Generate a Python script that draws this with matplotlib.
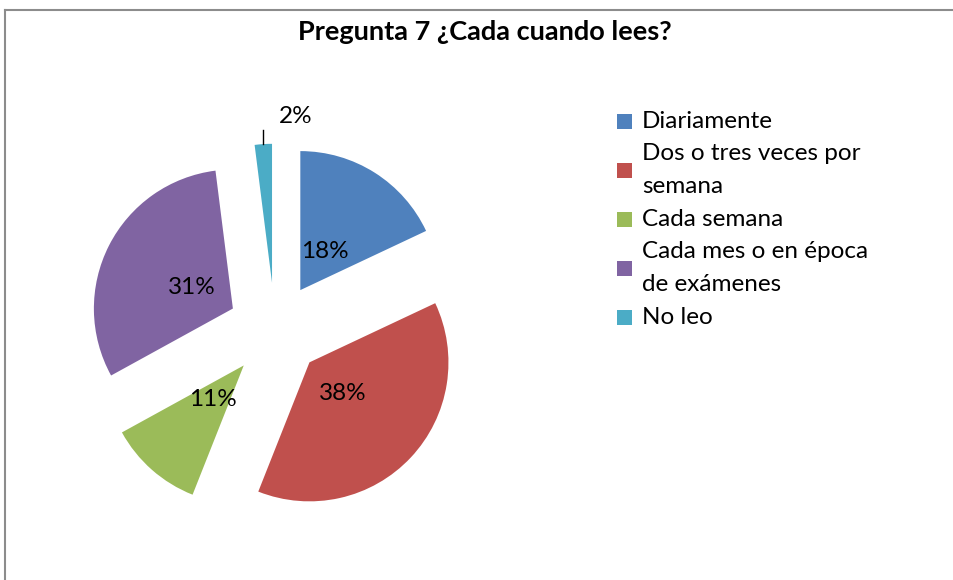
import numpy as np
import matplotlib.pyplot as plt
from matplotlib.patches import Rectangle
from matplotlib.lines import Line2D

# Pregunta 7 - exploded pie, Excel style

labels = ["Diariamente", "Dos o tres veces por\nsemana", "Cada semana",
          "Cada mes o en época\nde exámenes", "No leo"]
values = [18, 38, 11, 31, 2]
colors = ["#4F81BD", "#C0504D", "#9BBB59", "#8064A2", "#4BACC6"]

W, H = 954, 580
FONT = "Lato"

fig = plt.figure(figsize=(W / 100, H / 100), dpi=100)
fig.patch.set_facecolor("white")

# pie centre / radius in pixels
cx, cy, R = 275, 330, 139
ax = fig.add_axes([0, 0, 1, 1])

wedges, texts, autotexts = ax.pie(
    values, explode=[0.34] * len(values), colors=colors,
    startangle=90, counterclock=False,
    autopct=lambda p: f"{p:.0f}%", pctdistance=0.33,
    wedgeprops=dict(linewidth=0),
    textprops=dict(fontsize=17.5, family=FONT, color="black"))

ax.set_xlim(-cx / R, (W - cx) / R)
ax.set_ylim(-(H - cy) / R, cy / R)
ax.set_aspect("auto")
ax.axis("off")

# small slice: label outside with a short leader
w = wedges[-1]
mid = np.radians((w.theta1 + w.theta2) / 2)
x0 = w.center[0] + w.r * np.cos(mid)
y0 = w.center[1] + w.r * np.sin(mid)
ax.plot([x0, x0], [y0, y0 + 0.1], color="black", linewidth=1)
autotexts[-1].set_position((x0 + 0.11, y0 + 0.2))
autotexts[-1].set_ha("left")
autotexts[-1].set_va("center")

# title
fig.text(485 / W, 1 - 32 / H, "Pregunta 7 ¿Cada cuando lees?", ha="center", va="center",
         fontsize=19.5, fontweight="bold", family=FONT)

# legend drawn by hand (Excel wraps long entries, square centred on the entry)
pitch = 32.7
line_y = 121
for lab, col in zip(labels, colors):
    lines = lab.split("\n")
    mid_y = line_y + (len(lines) - 1) * pitch / 2
    fig.patches.append(Rectangle((617 / W, 1 - (mid_y + 7.5) / H), 15 / W, 15 / H,
                                 transform=fig.transFigure, facecolor=col, edgecolor="none"))
    for ln in lines:
        fig.text(642 / W, 1 - line_y / H, ln, ha="left", va="center",
                 fontsize=17.5, family=FONT)
        line_y += pitch

# chart frame (only top and left edges are visible)
frame_col = "#8c8c8c"
fig.lines.append(Line2D([5 / W, 1], [1 - 10 / H, 1 - 10 / H], transform=fig.transFigure,
                        color=frame_col, linewidth=1.5))
fig.lines.append(Line2D([5 / W, 5 / W], [0, 1 - 10 / H], transform=fig.transFigure,
                        color=frame_col, linewidth=1.5))

fig.savefig("out.png", dpi=100)
